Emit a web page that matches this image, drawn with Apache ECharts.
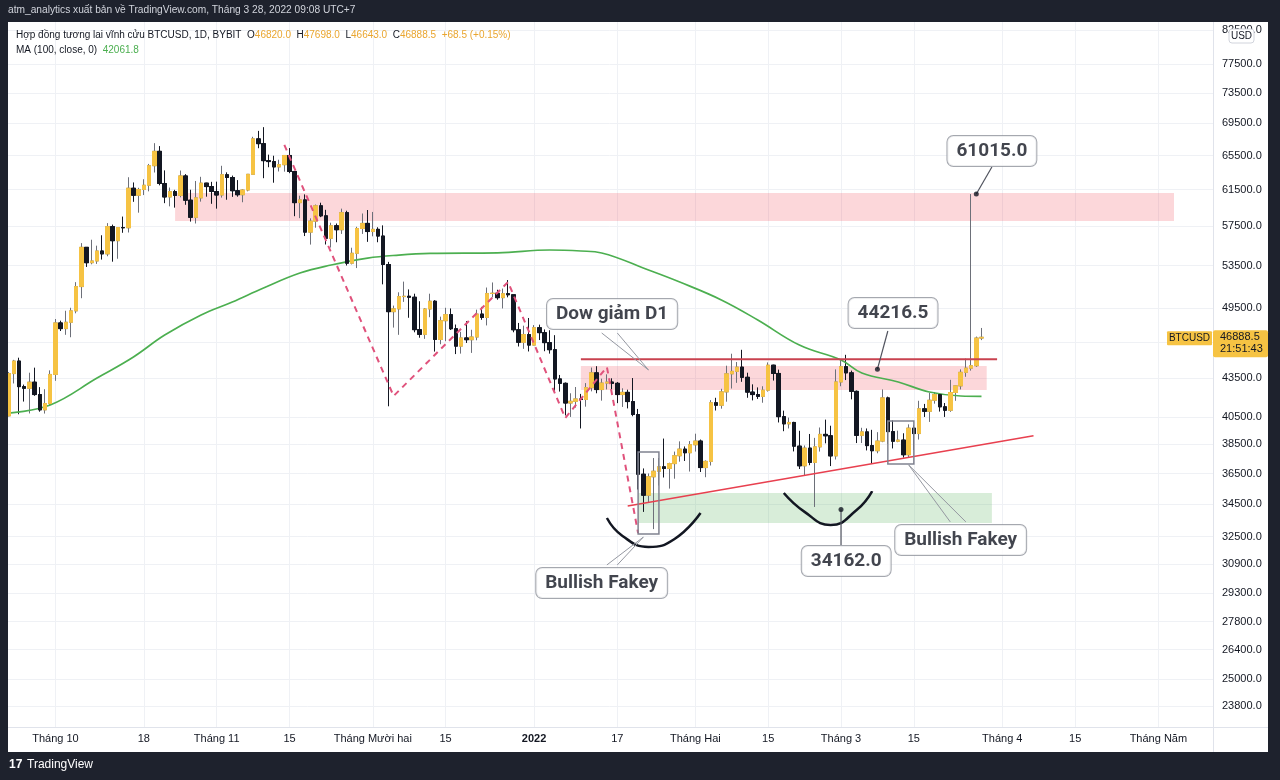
<!DOCTYPE html>
<html><head><meta charset="utf-8">
<script src="https://cdn.jsdelivr.net/npm/echarts/dist/echarts.min.js"></script>
<style>html,body{margin:0;padding:0;background:#fff;}#c{width:1280px;height:780px;}</style>
</head><body><div id="c"></div>
<script>
// ---------- DATA ----------
// date, open, high, low, close (BTCUSD perpetual, Bybit, 1D)
const candles = [
['2021-09-22',40580,43980,40550,43860],['2021-09-23',43860,44980,43070,44880],['2021-09-24',44880,45160,40700,42820],
['2021-09-25',42820,42980,41660,42690],['2021-09-26',42690,43930,40760,43170],['2021-09-27',43170,44340,42100,42200],
['2021-09-28',42200,42780,40890,41030],['2021-09-29',41030,42620,40750,41510],['2021-09-30',41510,44120,41410,43790],
['2021-10-01',43790,48490,43280,48140],['2021-10-02',48140,48340,47430,47640],['2021-10-03',47640,49230,47100,48200],
['2021-10-04',48200,49500,46890,49220],['2021-10-05',49220,51890,49000,51470],['2021-10-06',51470,55750,50380,55320],
['2021-10-07',55320,55330,53360,53780],['2021-10-08',53780,56100,53620,53950],['2021-10-09',53950,55490,53660,54950],
['2021-10-10',54950,56560,54090,54660],['2021-10-11',54660,57840,54420,57470],['2021-10-12',57470,57680,53880,56000],
['2021-10-13',56000,57000,54170,57370],['2021-10-14',57370,58540,56820,57350],['2021-10-15',57350,62930,56850,61670],
['2021-10-16',61670,62330,60150,60880],['2021-10-17',60880,61720,58960,61530],['2021-10-18',61530,62700,60900,62010],
['2021-10-19',62010,64490,61320,64280],['2021-10-20',64280,67000,63480,66000],['2021-10-21',66000,66640,62000,62210],
['2021-10-22',62210,63730,60000,60690],['2021-10-23',60690,61750,59650,61290],['2021-10-24',61290,61490,59510,60860],
['2021-10-25',60860,63710,60650,63080],['2021-10-26',63080,63290,59820,60330],['2021-10-27',60330,61500,58000,58460],
['2021-10-28',58460,62500,57800,60590],['2021-10-29',60590,62980,60170,62250],['2021-10-30',62250,62290,60720,61860],
['2021-10-31',61860,62400,59930,61300],['2021-11-01',61300,62420,59400,60910],['2021-11-02',60910,64270,60620,63220],
['2021-11-03',63220,63500,60380,62900],['2021-11-04',62900,63120,60700,61390],['2021-11-05',61390,62600,60720,60940],
['2021-11-06',60940,61560,60100,61470],['2021-11-07',61470,63290,61320,63270],['2021-11-08',63270,67790,63270,67530],
['2021-11-09',67530,68530,66380,66940],['2021-11-10',66940,69000,62820,64880],['2021-11-11',64880,65600,64100,64770],
['2021-11-12',64770,65470,62300,64140],['2021-11-13',64140,64990,63600,64400],['2021-11-14',64400,65550,63580,65500],
['2021-11-15',65500,66400,63400,63600],['2021-11-16',63600,63620,58580,60060],['2021-11-17',60060,60830,58370,60360],
['2021-11-18',60360,60980,56480,56890],['2021-11-19',56890,58350,55600,58050],['2021-11-20',58050,59850,57350,59710],
['2021-11-21',59710,60050,58480,58620],['2021-11-22',58620,59270,55610,56250],['2021-11-23',56250,57880,55300,57560],
['2021-11-24',57560,57800,55840,57140],['2021-11-25',57140,59400,56700,58960],['2021-11-26',58960,59170,53500,53730],
['2021-11-27',53730,55280,53610,54720],['2021-11-28',54720,57450,53250,57270],['2021-11-29',57270,58870,56700,57810],
['2021-11-30',57810,59250,55880,56950],['2021-12-01',56950,59040,56450,57180],['2021-12-02',57180,57400,55840,56480],
['2021-12-03',56480,57600,51680,53600],['2021-12-04',53600,53860,41300,49150],['2021-12-05',49150,49700,47730,49400],
['2021-12-06',49400,50930,47100,50530],['2021-12-07',50530,51940,50040,50560],['2021-12-08',50560,51200,48600,50470],
['2021-12-09',50470,50800,47320,47550],['2021-12-10',47550,50100,46850,47140],['2021-12-11',47140,49480,46750,49390],
['2021-12-12',49390,50800,48650,50100],['2021-12-13',50100,50200,45670,46700],['2021-12-14',46700,48700,46290,48340],
['2021-12-15',48340,49500,46550,48880],['2021-12-16',48880,49440,47520,47630],['2021-12-17',47630,48000,45460,46130],
['2021-12-18',46130,47360,45500,46830],['2021-12-19',46830,48300,46400,46680],['2021-12-20',46680,47540,45560,46910],
['2021-12-21',46910,49330,46630,48930],['2021-12-22',48930,49580,48420,48630],['2021-12-23',48630,51380,47920,50820],
['2021-12-24',50820,51860,50450,50840],['2021-12-25',50840,51170,50240,50430],['2021-12-26',50430,51280,49440,50800],
['2021-12-27',50800,52090,50460,50700],['2021-12-28',50700,50700,47320,47540],['2021-12-29',47540,48140,46100,46460],
['2021-12-30',46460,47900,45900,47120],['2021-12-31',47120,48580,45680,46220],['2022-01-01',46220,47950,46200,47720],
['2022-01-02',47720,47990,46650,47290],['2022-01-03',47290,47570,45700,46430],['2022-01-04',46430,47500,45500,45830],
['2022-01-05',45830,47070,42500,43430],['2022-01-06',43430,43750,42430,43080],['2022-01-07',43080,43150,40610,41550],
['2022-01-08',41550,42300,40500,41680],['2022-01-09',41680,42790,41200,41860],['2022-01-10',41860,42250,39650,41820],
['2022-01-11',41820,43100,41270,42740],['2022-01-12',42740,44350,42450,43920],['2022-01-13',43920,44460,42300,42590],
['2022-01-14',42590,43450,41730,43100],['2022-01-15',43100,43800,42600,43180],['2022-01-16',43180,43480,42600,43080],
['2022-01-17',43080,43180,41540,42200],['2022-01-18',42200,42690,41250,42370],['2022-01-19',42370,42580,41140,41660],
['2022-01-20',41660,43500,40550,40680],['2022-01-21',40680,41100,35440,36450],['2022-01-22',36450,36840,34010,35070],
['2022-01-23',35070,36500,34600,36280],['2022-01-24',36280,37550,32950,36650],['2022-01-25',36650,37550,35700,36950],
['2022-01-26',36950,38920,36230,36840],['2022-01-27',36840,37230,35500,37170],['2022-01-28',37170,38000,36150,37710],
['2022-01-29',37710,38720,37300,38170],['2022-01-30',38170,38360,37350,37920],['2022-01-31',37920,38740,36630,38480],
['2022-02-01',38480,39270,38000,38740],['2022-02-02',38740,38850,36600,36900],['2022-02-03',36900,37390,36250,37320],
['2022-02-04',37320,41770,37040,41570],['2022-02-05',41570,41950,40980,41380],['2022-02-06',41380,42650,41120,42410],
['2022-02-07',42410,44500,41650,43840],['2022-02-08',43840,45490,42670,44040],['2022-02-09',44040,44800,43120,44380],
['2022-02-10',44380,45820,43200,43560],['2022-02-11',43560,43930,41950,42390],['2022-02-12',42390,43000,41750,42200],
['2022-02-13',42200,42760,41860,42060],['2022-02-14',42060,42850,41570,42540],['2022-02-15',42540,44770,42430,44540],
['2022-02-16',44540,44580,43300,43870],['2022-02-17',43870,44180,40090,40520],['2022-02-18',40520,40970,39450,39990],
['2022-02-19',39990,40450,39650,40090],['2022-02-20',40090,40140,38010,38380],['2022-02-21',38380,39480,36800,37020],
['2022-02-22',37020,38430,36350,38240],['2022-02-23',38240,39250,37060,37250],['2022-02-24',37250,38970,34320,38330],
['2022-02-25',38330,39720,38000,39220],['2022-02-26',39220,40300,38580,39120],['2022-02-27',39120,39850,37000,37700],
['2022-02-28',37700,44200,37450,43190],['2022-03-01',43190,44950,42850,44420],['2022-03-02',44420,45400,43340,43920],
['2022-03-03',43920,44100,41830,42450],['2022-03-04',42450,42520,38600,39150],['2022-03-05',39150,39700,38600,39400],
['2022-03-06',39400,39650,38080,38420],['2022-03-07',38420,39550,37150,38060],['2022-03-08',38060,39380,37880,38740],
['2022-03-09',38740,42600,38660,41940],['2022-03-10',41940,42040,38540,39420],['2022-03-11',39420,40240,38220,38730],
['2022-03-12',38730,39490,38660,38810],['2022-03-13',38810,39300,37580,37780],['2022-03-14',37780,39950,37570,39670],
['2022-03-15',39670,39880,38110,39280],['2022-03-16',39280,41720,38850,41110],['2022-03-17',41110,41480,40500,40920],
['2022-03-18',40920,42330,40130,41760],['2022-03-19',41760,42400,41500,42200],['2022-03-20',42200,42300,40900,41260],
['2022-03-21',41260,41550,40500,41000],['2022-03-22',41000,43360,40880,42360],['2022-03-23',42360,42900,41720,42880],
['2022-03-24',42880,44200,42600,43960],['2022-03-25',43960,45090,43600,44300],['2022-03-26',44300,61015,44100,44500],
['2022-03-27',44500,46950,44400,46820],['2022-03-28',46820,47698,46643,46888.5]
];
// MA(100, close)
const maPoints = [
['2021-09-22',40790],['2021-09-30',41400],['2021-10-09',43500],['2021-10-16',45220],['2021-10-22',47080],
['2021-10-29',48850],['2021-11-04',50030],['2021-11-10',51340],['2021-11-17',52770],['2021-11-23',53550],
['2021-11-30',54240],['2021-12-06',54540],['2021-12-12',54700],['2021-12-25',54750],['2022-01-04',55050],
['2022-01-10',54950],['2022-01-14',54750],['2022-01-23',53060],['2022-01-29',51900],['2022-02-06',50220],
['2022-02-13',48400],['2022-02-21',46220],['2022-03-01',44970],['2022-03-05',43910],['2022-03-12',43190],
['2022-03-18',42400],['2022-03-24',42090],['2022-03-28',42061.8]
];
const maLast = 42061.8;
const axisStart = '2021-09-22', axisEnd = '2022-05-11';
const yTicks = [23800,25000,26400,27800,29300,30900,32500,34500,36500,38500,40500,43500,46500,49500,53500,57500,61500,65500,69500,73500,77500,82500];
const xTickLabels = {
 '2021-10-01':'Tháng 10','2021-10-18':'18','2021-11-01':'Tháng 11','2021-11-15':'15','2021-12-01':'Tháng Mười hai',
 '2021-12-15':'15','2022-01-01':'2022','2022-01-17':'17','2022-02-01':'Tháng Hai','2022-02-15':'15','2022-03-01':'Tháng 3',
 '2022-03-15':'15','2022-04-01':'Tháng 4','2022-04-15':'15','2022-05-01':'Tháng Năm'
};
// drawings
const zonesPink = [['2021-10-24','2022-05-04',61130,58060],['2022-01-10','2022-03-29',44480,42550]];
const zonesGreen = [['2022-01-21','2022-03-30',35210,33320]];
const fakeyBoxes = [['2022-01-21','2022-01-25',37970,32650],['2022-03-10','2022-03-15',40200,37140]];
const resistance = [['2022-01-10',45030],['2022-03-31',45030]];
const trendline = [['2022-01-19',34380],['2022-04-07',39125]];
const dowPath = [['2021-11-14',66780],['2021-12-05',42090],['2021-12-27',51900],['2022-01-07',40420],['2022-01-15',44390],['2022-01-21',32710]];
const arc1 = [['2022-01-15',33630],['2022-01-18',32540],['2022-01-23',31890],['2022-01-28',32360],['2022-02-02',33940]];
const arc2 = [['2022-02-18',35210],['2022-02-22',34010],['2022-02-27',33200],['2022-03-04',34130],['2022-03-07',35340]];
const callouts = [
 ['61015.0','2022-03-30',66040],['44216.5','2022-03-11',49030],['Dow giảm D1','2022-01-16',48940],
 ['Bullish Fakey','2022-01-14',29840],['34162.0','2022-03-02',31070],['Bullish Fakey','2022-03-24',32300]
];
const leaders = [
 [['2022-03-30',64130],['2022-03-27',61015]],
 [['2022-03-10',47430],['2022-03-08',44216.5]],
 [['2022-03-01',32000],['2022-03-01',34162]]
];
const leaderDots = [['2022-03-27',61015],['2022-03-08',44216.5],['2022-03-01',34162]];
const tails = [
 [['2022-01-14',47260],['2022-01-23',44150],['2022-01-17',47260]],
 [['2022-01-15',30850],['2022-01-22',32470],['2022-01-17',30850]],
 [['2022-03-22',33390],['2022-03-14',37080],['2022-03-25',33390]]
];

// ---------- BUILD ----------
const cats = [];
for (let t = Date.parse(axisStart+'T00:00:00Z'); t <= Date.parse(axisEnd+'T00:00:00Z'); t += 86400000) {
  cats.push(new Date(t).toISOString().slice(0,10));
}
const wickData = candles.map(r => [r[1], r[4], r[3], r[2]]);
const bodyData = candles.map(r => [r[1], r[4], Math.min(r[1],r[4]), Math.max(r[1],r[4])]);
const last = candles[candles.length-1];

const UP = '#f6c343', DOWN = '#131722', FONT = 'Liberation Sans, Arial, sans-serif';

function lineSeries(data, style, extra){
  return Object.assign({type:'line', data:data, symbol:'none', silent:true, animation:false, z:4,
    lineStyle:style, itemStyle:{color:style.color}}, extra||{});
}

const series = [];
series.push({
  type:'line', data:[], silent:true, z:0,
  markLine:{ silent:true, symbol:['none','none'], z:0, animation:false, label:{show:false},
    lineStyle:{color:'#eff1f5', width:1, type:'solid'},
    data: yTicks.map(v=>({yAxis:v})).concat(Object.keys(xTickLabels).map(d=>({xAxis:d}))) },
  markArea:{ silent:true, z:1, animation:false,
    data: zonesPink.map(z=>[{xAxis:z[0],yAxis:z[2],itemStyle:{color:'rgba(242,54,69,0.2)'}},{xAxis:z[1],yAxis:z[3]}])
      .concat(zonesGreen.map(z=>[{xAxis:z[0],yAxis:z[2],itemStyle:{color:'rgba(76,175,80,0.22)'}},{xAxis:z[1],yAxis:z[3]}])) }
});
series.push({type:'candlestick', data:wickData, barWidth:4, z:2, silent:true, animation:false,
  itemStyle:{color:'rgba(0,0,0,0)', color0:'rgba(0,0,0,0)', borderColor:'#6d7079', borderColor0:DOWN, borderWidth:1}});
series.push({type:'candlestick', data:bodyData, barWidth:4, z:3, silent:true, animation:false,
  itemStyle:{color:UP, color0:DOWN, borderColor:UP, borderColor0:DOWN, borderWidth:1},
  markArea:{ silent:true, z:5, animation:false,
    data: fakeyBoxes.map(b=>[{xAxis:b[0],yAxis:b[2],itemStyle:{color:'rgba(0,0,0,0)',borderColor:'#808390',borderWidth:1.5}},{xAxis:b[1],yAxis:b[3]}]) }
});
series.push(lineSeries(maPoints, {color:'#4caf50', width:1.7}, {smooth:0.4, connectNulls:true, z:3}));
series.push(lineSeries(resistance, {color:'#c9424f', width:2}));
series.push(lineSeries(trendline, {color:'#e8404f', width:1.6}));
series.push(lineSeries(dowPath, {color:'#e0527c', width:2, type:[6,5]}));
series.push(lineSeries(arc1, {color:'#131722', width:2.5}, {smooth:0.5}));
series.push(lineSeries(arc2, {color:'#131722', width:2.5}, {smooth:0.5}));
leaders.forEach(l=>series.push(lineSeries(l, {color:'#50535e', width:1.2}, {z:5})));
tails.forEach(l=>series.push(lineSeries(l, {color:'#9598a1', width:1}, {z:5})));
series.push({type:'scatter', data:leaderDots, symbolSize:5, itemStyle:{color:'#131722'}, silent:true, z:5, animation:false});
series.push({type:'scatter', silent:true, z:7, animation:false, symbolSize:1, itemStyle:{color:'rgba(0,0,0,0)'},
  data: callouts.map(c=>({name:c[0], value:[c[1],c[2]]})),
  label:{show:true, position:'inside', formatter:'{b}', color:'#131722', fontFamily:'Roboto, sans-serif', fontSize:19, fontWeight:'bold',
    backgroundColor:'#ffffff', borderColor:'#8f929b', borderWidth:1, borderRadius:6, padding:[6,9,5,9]}});

const option = {
  backgroundColor:'#ffffff',
  animation:false,
  title:[
    {text:'atm_analytics xuất bản về TradingView.com, Tháng 3 28, 2022 09:08 UTC+7', left:3, top:0, z:30,
      textStyle:{color:'#d1d4dc', fontSize:10.2, fontWeight:'normal', fontFamily:FONT}},
    {text:'{d|Hợp đồng tương lai vĩnh cửu BTCUSD, 1D, BYBIT}  {d|O}{y|'+last[1].toFixed(1)+'}  {d|H}{y|'+last[2].toFixed(1)+'}  {d|L}{y|'+last[3].toFixed(1)+'}  {d|C}{y|'+last[4].toFixed(1)+'}  {y|+68.5 (+0.15%)}\n{d|MA (100, close, 0)}  {g|'+maLast.toFixed(1)+'}',
      left:11, top:23, z:30,
      textStyle:{fontSize:10, fontWeight:'normal', fontFamily:FONT, lineHeight:15,
        rich:{d:{color:'#131722',fontSize:10,fontFamily:FONT,lineHeight:15}, y:{color:'#eaa630',fontSize:10,fontFamily:FONT,lineHeight:15}, g:{color:'#4caf50',fontSize:10,fontFamily:FONT,lineHeight:15}}}}
  ],
  grid:{left:6, right:67, top:22, bottom:53, containLabel:false, outerBoundsMode:'none'},
  xAxis:{type:'category', data:cats, boundaryGap:true,
    axisLine:{show:false}, axisTick:{show:false}, splitLine:{show:false},
    axisLabel:{interval:(i,v)=>xTickLabels[v]!==undefined, margin:6, color:'#131722', fontSize:11, fontFamily:FONT,
      formatter:v=>v==='2022-01-01'?'{b|2022}':(xTickLabels[v]||''), rich:{b:{fontWeight:'bold',fontSize:11,color:'#131722',fontFamily:FONT}}}},
  yAxis:{type:'log', logBase:10, min:22900, max:83720, position:'right', scale:true,
    axisLine:{show:false}, axisTick:{show:false}, splitLine:{show:false},
    axisLabel:{customValues:yTicks, margin:9, color:'#131722', fontSize:11, fontFamily:FONT, formatter:v=>Number(v).toFixed(1)}},
  series:series
};

const chart = echarts.init(document.getElementById('c'), null, {renderer:'canvas'});
chart.setOption(option);

const py = chart.convertToPixel({yAxisIndex:0}, last[4]);
const DARK = '#1e222d';
chart.setOption({graphic:{elements:[
  {type:'rect', z:10, shape:{x:0,y:0,width:1280,height:22}, style:{fill:DARK}, silent:true},
  {type:'rect', z:10, shape:{x:0,y:0,width:8,height:780}, style:{fill:DARK}, silent:true},
  {type:'rect', z:10, shape:{x:1268,y:0,width:12,height:780}, style:{fill:DARK}, silent:true},
  {type:'rect', z:10, shape:{x:0,y:752,width:1280,height:28}, style:{fill:DARK}, silent:true},
  {type:'line', z:9, shape:{x1:1213.5,y1:22,x2:1213.5,y2:752}, style:{stroke:'#e0e3eb',lineWidth:1}, silent:true},
  {type:'line', z:9, shape:{x1:8,y1:727.5,x2:1268,y2:727.5}, style:{stroke:'#e0e3eb',lineWidth:1}, silent:true},
  {type:'rect', z:11, shape:{x:1229,y:29,width:25,height:14,r:3}, style:{fill:'#fff',stroke:'#d1d4dc',lineWidth:1}, silent:true},
  {type:'text', z:12, x:1241.5, y:36, style:{text:'USD', fill:'#131722', font:'10px '+FONT, textAlign:'center', textVerticalAlign:'middle'}, silent:true},
  {type:'rect', z:11, shape:{x:1167,y:py-6,width:45,height:14,r:1}, style:{fill:UP}, silent:true},
  {type:'text', z:12, x:1189.5, y:py+1, style:{text:'BTCUSD', fill:'#131722', font:'10px '+FONT, textAlign:'center', textVerticalAlign:'middle'}, silent:true},
  {type:'rect', z:11, shape:{x:1213,y:py-7,width:55,height:27,r:2}, style:{fill:UP}, silent:true},
  {type:'text', z:12, x:1220, y:py, style:{text:last[4].toFixed(1), fill:'#131722', font:'11px '+FONT, textVerticalAlign:'middle'}, silent:true},
  {type:'text', z:12, x:1220, y:py+12, style:{text:'21:51:43', fill:'#131722', font:'11px '+FONT, textVerticalAlign:'middle'}, silent:true},
  {type:'text', z:12, x:9, y:765, style:{text:'17', fill:'#ffffff', font:'bold 12px '+FONT, textVerticalAlign:'middle'}, silent:true},
  {type:'text', z:12, x:27, y:765, style:{text:'TradingView', fill:'#ffffff', font:'12px '+FONT, textVerticalAlign:'middle'}, silent:true}
]}});
</script></body></html>
